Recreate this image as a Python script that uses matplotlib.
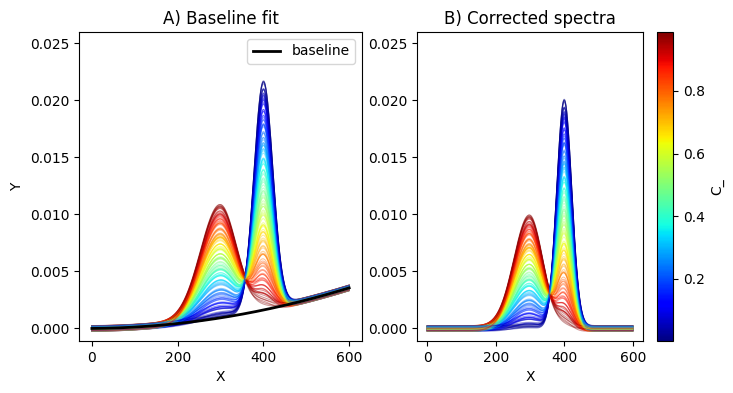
import matplotlib.pyplot as plt
import numpy as np
from matplotlib.cm import ScalarMappable
from matplotlib.colors import Normalize


OUTPUT_PATH = "out.png"

# concentration of component 1 for each spectrum
C_VALUES = [
    0.412, 0.087, 0.953, 0.268, 0.731, 0.015, 0.584, 0.862, 0.143, 0.497,
    0.988, 0.322, 0.066, 0.679, 0.214, 0.905, 0.456, 0.031, 0.793, 0.371,
    0.612, 0.178, 0.941, 0.529, 0.002, 0.745, 0.287, 0.836, 0.109, 0.664,
    0.394, 0.972, 0.238, 0.551, 0.048, 0.817, 0.472, 0.126, 0.698, 0.349,
    0.921, 0.195, 0.627, 0.076, 0.883, 0.435, 0.258, 0.761, 0.009, 0.568,
    0.305, 0.964, 0.158, 0.712, 0.521, 0.058, 0.849, 0.383, 0.641, 0.227,
    0.977, 0.483, 0.098, 0.776, 0.337, 0.893, 0.022, 0.596, 0.185, 0.708,
    0.442, 0.931, 0.134, 0.655, 0.276, 0.805, 0.038, 0.539, 0.361, 0.869,
    0.054, 0.917, 0.247, 0.689, 0.119, 0.826, 0.403, 0.574, 0.012, 0.758,
    0.298, 0.946, 0.167, 0.617, 0.469, 0.083, 0.879, 0.356, 0.725, 0.204,
    0.983, 0.512, 0.043, 0.671, 0.316, 0.854, 0.149, 0.592, 0.428, 0.937,
    0.072, 0.786, 0.233, 0.543, 0.005, 0.898, 0.375, 0.646, 0.114, 0.769,
    0.461, 0.959, 0.191, 0.558, 0.027, 0.811, 0.343, 0.702, 0.262, 0.969,
    0.092, 0.633, 0.419, 0.842, 0.171, 0.506, 0.061, 0.738, 0.291, 0.912,
]

OFFSETS = [
    0.00012, -0.00008, 0.00021, -0.00017, 0.00003, 0.00015, -0.00022, 0.00006,
    -0.00011, 0.00019, -0.00004, 0.00009, -0.00019, 0.00024, -0.00013, 0.00001,
    0.00017, -0.00006, -0.00024, 0.00011, 0.00005, -0.00015, 0.00022, -0.00002,
    0.00014, -0.00020, 0.00008, -0.00009, 0.00018, -0.00014, 0.00002, 0.00023,
    -0.00018, 0.00010, -0.00003, 0.00016, -0.00023, 0.00007, -0.00012, 0.00020,
    -0.00005, 0.00013, -0.00021, 0.00004, 0.00019, -0.00010, 0.00000, -0.00016,
    0.00022, -0.00007, 0.00011, -0.00025, 0.00015, -0.00001, 0.00008, -0.00019,
    0.00024, -0.00012, 0.00006, -0.00004, 0.00017, -0.00022, 0.00003, 0.00014,
    -0.00009, 0.00021, -0.00017, 0.00009, -0.00013, 0.00001, 0.00018, -0.00020,
    0.00005, -0.00006, 0.00012, -0.00024, 0.00016, -0.00002, 0.00010, -0.00015,
    -0.00014, 0.00020, -0.00003, 0.00011, -0.00023, 0.00007, 0.00016, -0.00010,
    0.00025, -0.00018, 0.00002, 0.00013, -0.00007, -0.00021, 0.00018, 0.00004,
    -0.00012, 0.00022, -0.00016, 0.00009, -0.00001, 0.00015, -0.00025, 0.00006,
    0.00019, -0.00008, -0.00019, 0.00012, 0.00001, -0.00011, 0.00023, -0.00005,
    0.00014, -0.00022, 0.00008, -0.00013, 0.00021, 0.00003, -0.00017, 0.00010,
    -0.00024, 0.00017, -0.00002, 0.00005, -0.00015, 0.00024, -0.00009, 0.00011,
    -0.00020, 0.00000, 0.00018, -0.00006, 0.00013, -0.00023, 0.00007, -0.00011,
    0.00020, -0.00004, 0.00016, -0.00018,
]

# pure component peaks: centre, height, width left / right of the centre
PEAK_CENTERS = [298, 400]
PEAK_HEIGHTS = [0.0100, 0.0200]
PEAK_WIDTHS_LEFT = [45, 22]
PEAK_WIDTHS_RIGHT = [39, 22]

# baseline polynomial, highest power first
BASELINE_COEFS = [9.44e-9, 2.7e-7, 0.0]

X_MIN, X_MAX = 0, 600


def peak(x, center, height, width_left, width_right):
    width = np.where(x < center, width_left, width_right)
    return height * np.exp(-((x - center) ** 2) / (2 * width**2))


def main():
    x = np.linspace(X_MIN, X_MAX, 601)
    pure_1, pure_2 = [
        peak(x, PEAK_CENTERS[i], PEAK_HEIGHTS[i], PEAK_WIDTHS_LEFT[i], PEAK_WIDTHS_RIGHT[i])
        for i in range(2)
    ]
    baseline = np.polyval(BASELINE_COEFS, x)

    norm = Normalize(vmin=min(C_VALUES), vmax=max(C_VALUES))
    cmap = plt.get_cmap("jet")

    fig = plt.figure(figsize=(7.33, 3.93), dpi=100)
    ax_a = fig.add_axes([0.1078, 0.1323, 0.3861, 0.7863])
    ax_b = fig.add_axes([0.5689, 0.1323, 0.3083, 0.7863])
    cax = fig.add_axes([0.8963, 0.1323, 0.0218, 0.7863])

    for c, offset in zip(C_VALUES, OFFSETS):
        corrected = c * pure_1 + (1 - c) * pure_2 + offset
        color = cmap(norm(c))
        ax_a.plot(x, corrected + baseline, color=color, lw=0.8, alpha=0.4)
        ax_b.plot(x, corrected, color=color, lw=0.8, alpha=0.4)

    ax_a.plot(x, baseline, color="black", lw=2, label="baseline")
    ax_a.legend(loc="upper right")

    for ax in (ax_a, ax_b):
        ax.set_xlim(-30, 630)
        ax.set_ylim(-0.0011, 0.026)
        ax.set_xticks([0, 200, 400, 600])
        ax.set_xlabel("X")

    ax_a.set_ylabel("Y")
    ax_a.set_title("A) Baseline fit")
    ax_b.set_title("B) Corrected spectra")

    sm = ScalarMappable(norm=norm, cmap=cmap)
    cbar = fig.colorbar(sm, cax=cax)
    cbar.set_ticks([0.2, 0.4, 0.6, 0.8])
    cbar.set_label("C_")

    fig.savefig(OUTPUT_PATH, dpi=100)


if __name__ == "__main__":
    main()
